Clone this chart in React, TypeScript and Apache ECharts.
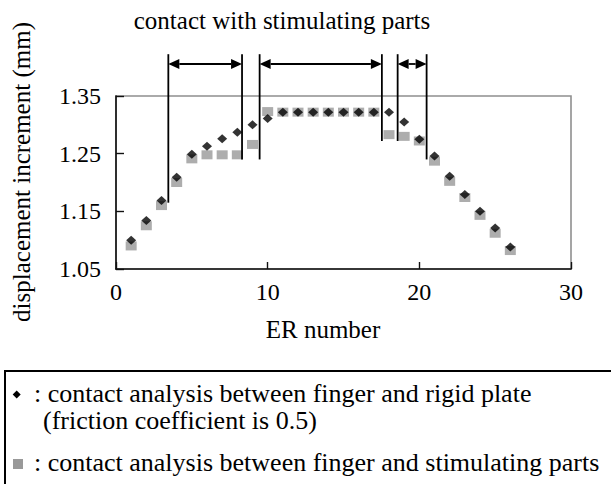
import React, { useEffect, useRef } from "react";
import * as echarts from "echarts";

// ---- data ----
const erNumbers = [1, 2, 3, 4, 5, 6, 7, 8, 9, 10, 11, 12, 13, 14, 15, 16, 17, 18, 19, 20, 21, 22, 23, 24, 25, 26];
// contact analysis between finger and rigid plate (diamonds)
const rigidPlate = [
  1.100, 1.134, 1.169, 1.209, 1.249, 1.263, 1.276, 1.287, 1.300, 1.311,
  1.322, 1.322, 1.322, 1.322, 1.322, 1.322, 1.322, 1.322, 1.305, 1.275,
  1.246, 1.211, 1.179, 1.150, 1.121, 1.088,
];
// contact analysis between finger and stimulating parts (squares)
const stimulatingParts = [
  1.090, 1.125, 1.160, 1.200, 1.241, 1.248, 1.248, 1.248, 1.266, 1.323,
  1.322, 1.322, 1.322, 1.322, 1.322, 1.322, 1.322, 1.283, 1.280, 1.272,
  1.237, 1.202, 1.174, 1.143, 1.112, 1.082,
];
const xTickValues = [0, 10, 20, 30];
const yTickLabels = ["1.05", "1.15", "1.25", "1.35"];

// "contact with stimulating parts" brackets (in data units)
const bracketLeft = [3.45, 9.47, 18.57];
const bracketRight = [8.31, 17.53, 20.48];
const bracketLeftBottom = [1.165, 1.24, 1.272];
const bracketRightBottom = [1.24, 1.272, 1.24];
const bracketTop = 1.4225;
const arrowLevel = 1.4055;

const rigidName = "contact analysis between finger and rigid plate (friction coefficient is 0.5)";
const stimName = "contact analysis between finger and stimulating parts";

const FONT = "Liberation Serif";

export default function App() {
  const ref = useRef<HTMLDivElement>(null);

  useEffect(() => {
    if (!ref.current) return;
    const chart = echarts.init(ref.current, null, { renderer: "svg" });

    const rigidData = erNumbers.map((x, i) => [x, rigidPlate[i]]);
    const stimData = erNumbers.map((x, i) => [x, stimulatingParts[i]]);
    const bracketData = bracketLeft.map((l, i) => [l, bracketRight[i], bracketLeftBottom[i], bracketRightBottom[i]]);

    const yMin = parseFloat(yTickLabels[0]);
    const yMax = parseFloat(yTickLabels[yTickLabels.length - 1]);
    const yInt = +(parseFloat(yTickLabels[1]) - yMin).toFixed(4);

    const lineStyle = { stroke: "#000", lineWidth: 1.8 };

    chart.setOption({
      animation: false,
      grid: {
        left: 116,
        top: 96,
        width: 455,
        height: 173,
        show: true,
        borderColor: "#8f8f8f",
        borderWidth: 1.6,
      },
      xAxis: {
        type: "value",
        min: xTickValues[0],
        max: xTickValues[xTickValues.length - 1],
        interval: xTickValues[1] - xTickValues[0],
        axisLine: { show: true, lineStyle: { color: "#111", width: 1.6 } },
        axisTick: { show: true, inside: true, length: 7, lineStyle: { color: "#111", width: 1.4 } },
        splitLine: { show: false },
        axisLabel: { fontFamily: FONT, fontSize: 24, color: "#000", margin: 11 },
      },
      yAxis: {
        type: "value",
        min: yMin,
        max: yMax,
        interval: yInt,
        axisLine: { show: true, lineStyle: { color: "#111", width: 1.6 } },
        axisTick: { show: true, inside: true, length: 8, lineStyle: { color: "#111", width: 1.4 } },
        splitLine: { show: false },
        axisLabel: {
          fontFamily: FONT,
          fontSize: 24,
          color: "#000",
          margin: 15,
          padding: [5, 0, 0, 0],
          formatter: (v: number) => v.toFixed(2),
        },
      },
      series: [
        {
          name: stimName,
          type: "scatter",
          data: stimData,
          symbol: "rect",
          symbolSize: [11, 9],
          itemStyle: { color: "#999999" },
          z: 2,
        },
        {
          name: rigidName,
          type: "scatter",
          data: rigidData,
          symbol: "diamond",
          symbolSize: [10, 9],
          itemStyle: { color: "#000000" },
          z: 3,
        },
        {
          type: "custom",
          clip: false,
          silent: true,
          z: 4,
          data: bracketData,
          encode: { x: [0, 1], y: [2, 3] },
          renderItem: (_params: any, api: any) => {
            const xl = api.value(0);
            const xr = api.value(1);
            const lb = api.coord([xl, api.value(2)]);
            const lt = api.coord([xl, bracketTop]);
            const rb = api.coord([xr, api.value(3)]);
            const rt = api.coord([xr, bracketTop]);
            const ay = api.coord([xl, arrowLevel])[1];
            const head = 11;
            const half = 5;
            return {
              type: "group",
              children: [
                { type: "line", shape: { x1: lt[0], y1: lt[1], x2: lb[0], y2: lb[1] }, style: lineStyle },
                { type: "line", shape: { x1: rt[0], y1: rt[1], x2: rb[0], y2: rb[1] }, style: lineStyle },
                { type: "line", shape: { x1: lt[0] + head, y1: ay, x2: rt[0] - head, y2: ay }, style: lineStyle },
                {
                  type: "polygon",
                  shape: { points: [[lt[0], ay], [lt[0] + head, ay - half], [lt[0] + head, ay + half]] },
                  style: { fill: "#000" },
                },
                {
                  type: "polygon",
                  shape: { points: [[rt[0], ay], [rt[0] - head, ay - half], [rt[0] - head, ay + half]] },
                  style: { fill: "#000" },
                },
              ],
            };
          },
        },
      ],
      graphic: [
        {
          type: "text",
          x: 282,
          y: 20,
          style: { text: "contact with stimulating parts", fontFamily: FONT, fontSize: 25, fill: "#000", align: "center", verticalAlign: "middle" },
        },
        {
          type: "text",
          x: 323,
          y: 329,
          style: { text: "ER number", fontFamily: FONT, fontSize: 25, fill: "#000", align: "center", verticalAlign: "middle" },
        },
        {
          type: "text",
          x: 21,
          y: 172,
          rotation: Math.PI / 2,
          style: { text: "displacement increment (mm)", fontFamily: FONT, fontSize: 25, fill: "#000", align: "center", verticalAlign: "middle" },
        },
        {
          type: "rect",
          shape: { x: 5, y: 371, width: 700, height: 200 },
          style: { fill: "transparent", stroke: "#000", lineWidth: 2 },
        },
        {
          type: "polygon",
          shape: { points: [[16.7, 390.5], [20.7, 394.5], [16.7, 398.5], [12.7, 394.5]] },
          style: { fill: "#000" },
        },
        {
          type: "text",
          x: 34,
          y: 393,
          style: { text: ": contact analysis between finger and rigid plate", fontFamily: FONT, fontSize: 26, fill: "#000", align: "left", verticalAlign: "middle" },
        },
        {
          type: "text",
          x: 43,
          y: 420,
          style: { text: "(friction coefficient is 0.5)", fontFamily: FONT, fontSize: 26, fill: "#000", align: "left", verticalAlign: "middle" },
        },
        {
          type: "rect",
          shape: { x: 13, y: 459, width: 10, height: 10 },
          style: { fill: "#999999" },
        },
        {
          type: "text",
          x: 34,
          y: 462,
          style: { text: ": contact analysis between finger and stimulating parts", fontFamily: FONT, fontSize: 26, fill: "#000", align: "left", verticalAlign: "middle" },
        },
      ],
    });

    return () => chart.dispose();
  }, []);

  return <div ref={ref} style={{ position: "absolute", left: 0, top: 0, width: 611, height: 484 }} />;
}
